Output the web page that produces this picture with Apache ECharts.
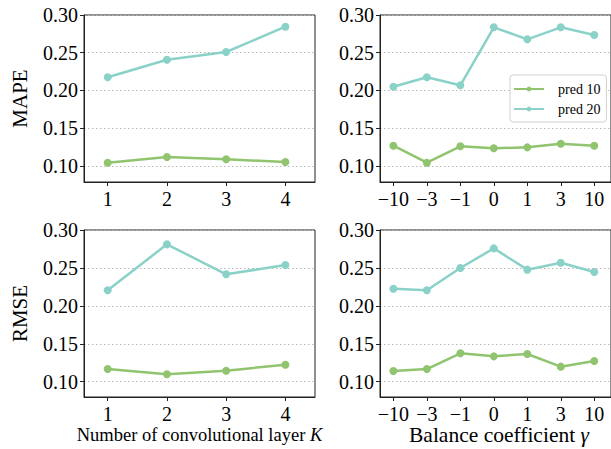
<!DOCTYPE html>
<html><head><meta charset="utf-8">
<script src="https://cdn.jsdelivr.net/npm/echarts@6/dist/echarts.min.js"></script>
<style>html,body{margin:0;padding:0;background:#fff}#c{width:611px;height:449px}</style>
</head><body><div id="c"></div>
<script>
// Categories / tick labels
const kLayers = [1, 2, 3, 4];
const gammaLabels = ['\u221210', '\u22123', '\u22121', '0', '1', '3', '10'];
const gammaPos = [0, 1, 2, 3, 4, 5, 6];
const yTicks = [0.10, 0.15, 0.20, 0.25, 0.30];

// Series values
const mapeK_pred10 = [0.1044, 0.1119, 0.1089, 0.1053];
const mapeK_pred20 = [0.2175, 0.2408, 0.2510, 0.2845];
const mapeG_pred10 = [0.1269, 0.1044, 0.1261, 0.1234, 0.1247, 0.1295, 0.1269];
const mapeG_pred20 = [0.2050, 0.2175, 0.2069, 0.2837, 0.2678, 0.2837, 0.2735];
const rmseK_pred10 = [0.1167, 0.1097, 0.1145, 0.1224];
const rmseK_pred20 = [0.2205, 0.2811, 0.2416, 0.2538];
const rmseG_pred10 = [0.1141, 0.1167, 0.1374, 0.1334, 0.1365, 0.1198, 0.1272];
const rmseG_pred20 = [0.2226, 0.2205, 0.2499, 0.2758, 0.2477, 0.2569, 0.2446];

const C10 = '#90c46e', C20 = '#8ad1c8';
const FONT = 'Liberation Serif';
const axisCol = '#222';

function zip(xs, ys) { return xs.map((x, i) => [x, ys[i]]); }

const grids = [
  {left: 84, top: 15, width: 231, height: 167},
  {left: 380, top: 15, width: 231, height: 167},
  {left: 84, top: 230, width: 231, height: 167},
  {left: 380, top: 230, width: 231, height: 167}
].map(g => Object.assign(g, {show: true, borderColor: axisCol, borderWidth: 1, backgroundColor: 'transparent'}));

function xAxis(i, isK) {
  return {
    type: 'value', gridIndex: i,
    min: isK ? 0.6 : -0.4, max: isK ? 4.5 : 6.5,
    axisLine: {show: true, onZero: false, lineStyle: {color: axisCol, width: 1}},
    axisTick: {show: true, inside: false, length: 4, lineStyle: {color: axisCol}, customValues: isK ? kLayers : gammaPos},
    axisLabel: {show: true, customValues: isK ? kLayers : gammaPos, color: '#000', fontFamily: FONT, fontSize: 20, margin: 7,
      formatter: v => isK ? String(v) : gammaLabels[Math.round(v)]},
    splitLine: {show: false}
  };
}
function yAxis(i, ymin, name) {
  const ax = {
    type: 'value', gridIndex: i, min: ymin, max: 0.30,
    axisLine: {show: true, onZero: false, lineStyle: {color: axisCol, width: 1}},
    axisTick: {show: true, inside: false, length: 4, lineStyle: {color: axisCol}, customValues: yTicks},
    axisLabel: {show: true, customValues: yTicks, color: '#000', fontFamily: FONT, fontSize: 20, margin: 6,
      formatter: v => v.toFixed(2)},
    splitLine: {show: true, lineStyle: {color: '#b8b8b8', width: 1, type: [1.5, 2.5]}}
  };
  if (name) {
    ax.name = name; ax.nameLocation = 'middle'; ax.nameGap = 54; ax.nameRotate = 90;
    ax.nameTextStyle = {color: '#000', fontFamily: FONT, fontSize: 21};
  }
  return ax;
}

function line(name, i, xs, ys, color) {
  return {
    type: 'line', name: name, xAxisIndex: i, yAxisIndex: i, data: zip(xs, ys),
    symbol: 'circle', symbolSize: 8, color: color,
    lineStyle: {color: color, width: 2.5}, itemStyle: {color: color},
    emphasis: {disabled: true}, animation: false
  };
}

function xName(cx, text, size) {
  return {
    type: 'text', x: cx, y: 435, silent: true,
    style: {
      text: text, align: 'center', verticalAlign: 'middle',
      fontFamily: FONT, fontSize: size, fill: '#000',
      rich: {
        n: {fontFamily: FONT, fontSize: size, fontStyle: 'normal', fill: '#000'},
        it: {fontFamily: FONT, fontSize: size, fontStyle: 'italic', fill: '#000'}
      }
    }
  };
}

const chart = echarts.init(document.getElementById('c'), null, {renderer: 'svg'});
chart.setOption({
  animation: false,
  grid: grids,
  xAxis: [xAxis(0, true), xAxis(1, false), xAxis(2, true), xAxis(3, false)],
  yAxis: [yAxis(0, 0.0788, 'MAPE'), yAxis(1, 0.0788), yAxis(2, 0.0798, 'RMSE'), yAxis(3, 0.0798)],
  graphic: [
    xName(499, '{n|Balance coefficient }{it|\u03b3}', 21.5),
    xName(199.5, '{n|Number of convolutional layer }{it|K}', 18.5)
  ],
  legend: {
    show: true, left: 510, top: 75, orient: 'vertical', itemWidth: 30, itemHeight: 6, itemGap: 6,
    padding: [7, 6, 6, 3], backgroundColor: '#fff', borderColor: '#d0d0d0', borderWidth: 1, borderRadius: 3,
    formatter: n => '{t|' + n + '}',
    textStyle: {fontFamily: FONT, fontSize: 14, color: '#000',
      rich: {t: {fontFamily: FONT, fontSize: 14, color: '#000', padding: [0, 0, 0, 9]}}},
    data: ['pred 10', 'pred 20']
  },
  series: [
    line('pred 10', 0, kLayers, mapeK_pred10, C10),
    line('pred 20', 0, kLayers, mapeK_pred20, C20),
    line('pred 10', 1, gammaPos, mapeG_pred10, C10),
    line('pred 20', 1, gammaPos, mapeG_pred20, C20),
    line('pred 10', 2, kLayers, rmseK_pred10, C10),
    line('pred 20', 2, kLayers, rmseK_pred20, C20),
    line('pred 10', 3, gammaPos, rmseG_pred10, C10),
    line('pred 20', 3, gammaPos, rmseG_pred20, C20)
  ]
});
</script></body></html>
